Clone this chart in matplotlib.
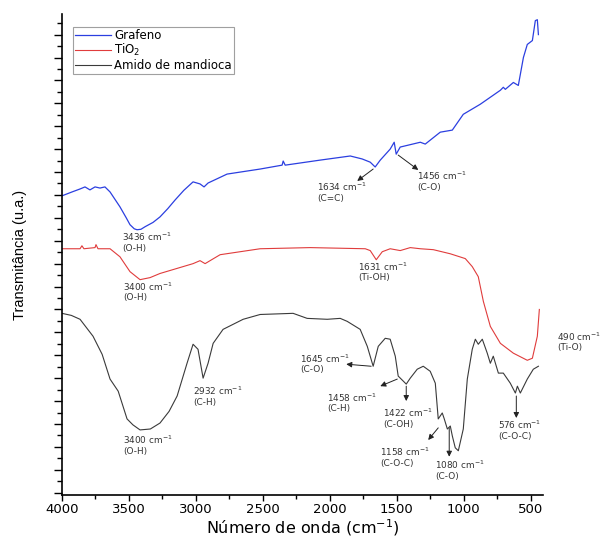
import matplotlib
matplotlib.use('Agg')
import matplotlib.pyplot as plt
from matplotlib.ticker import MultipleLocator

plt.rcParams['font.family'] = 'DejaVu Sans'
plt.rcParams['mathtext.default'] = 'regular'

# FTIR spectra (wavenumber in cm-1, transmittance in arbitrary units, offset)
grafeno_x = [4000, 3925, 3865, 3828, 3791, 3753, 3716, 3679, 3641, 3567, 3520, 3492, 3460,
             3439, 3410, 3380, 3320, 3268, 3210, 3155, 3090, 3021, 2969, 2939, 2909, 2767,
             2520, 2356, 2348, 2333, 2072, 1847, 1758, 1698, 1661, 1623, 1549, 1519, 1504,
             1474, 1324, 1287, 1175, 1085, 1003, 876, 726, 704, 689, 629, 592, 554, 525,
             487, 465, 450, 442]
grafeno_y = [12.96, 13.13, 13.26, 13.35, 13.22, 13.35, 13.30, 13.35, 13.13, 12.48, 12.00, 11.70, 11.52,
             11.48, 11.50, 11.61, 11.80, 12.04, 12.40, 12.78, 13.20, 13.57, 13.48, 13.35, 13.52, 13.91,
             14.13, 14.30, 14.48, 14.30, 14.52, 14.70, 14.57, 14.43, 14.22, 14.52, 15.00, 15.30, 14.78,
             15.09, 15.30, 15.22, 15.74, 15.83, 16.52, 16.96, 17.57, 17.70, 17.61, 17.91, 17.78, 19.00, 19.57,
             19.74, 20.61, 20.65, 20.00]

tio2_x = [4000, 3865, 3851, 3836, 3753, 3746, 3731, 3641, 3567, 3492, 3417, 3342, 3268,
          3021, 2969, 2931, 2894, 2819, 2520, 2146, 1735, 1698, 1653, 1608, 1549, 1474,
          1399, 1324, 1227, 1100, 988, 936, 891, 853, 801, 726, 629, 525, 487, 450, 435]
tio2_y = [10.65, 10.65, 10.78, 10.65, 10.70, 10.83, 10.65, 10.65, 10.30, 9.65, 9.30, 9.39, 9.57,
          10.00, 10.13, 10.00, 10.13, 10.39, 10.65, 10.70, 10.65, 10.57, 10.17, 10.52, 10.65, 10.57,
          10.70, 10.65, 10.61, 10.43, 10.22, 9.87, 9.43, 8.35, 7.26, 6.52, 6.09, 5.78, 5.87, 6.83, 8.00]

amido_x = [4000, 3930, 3865, 3768, 3700, 3641, 3580, 3514, 3470, 3417, 3340, 3268, 3200,
           3140, 3066, 3021, 2984, 2946, 2909, 2871, 2797, 2647, 2520, 2274, 2169, 2019,
           1922, 1870, 1773, 1720, 1676, 1638, 1586, 1549, 1511, 1489, 1451, 1429, 1399,
           1347, 1302, 1250, 1212, 1190, 1160, 1145, 1122, 1100, 1085, 1063, 1040, 1003,
           973, 936, 913, 891, 861, 824, 801, 779, 741, 704, 652, 614, 599, 577, 525, 480, 442]
amido_y = [7.83, 7.74, 7.57, 6.83, 6.04, 4.96, 4.43, 3.22, 2.96, 2.74, 2.78, 3.04, 3.55,
           4.22, 5.65, 6.48, 6.26, 5.00, 5.65, 6.52, 7.13, 7.57, 7.78, 7.83, 7.61, 7.57,
           7.61, 7.48, 7.13, 6.39, 5.52, 6.39, 6.74, 6.70, 5.96, 5.09, 4.87, 4.74, 5.00,
           5.39, 5.52, 5.30, 4.78, 3.22, 3.48, 3.22, 2.78, 2.91, 2.48, 1.96, 1.83, 2.78,
           4.96, 6.26, 6.70, 6.48, 6.70, 6.09, 5.65, 5.96, 5.22, 5.22, 4.78, 4.35, 4.65, 4.35, 4.96, 5.39, 5.52]

# band labels: text, text position (x, y)
band_labels = [
    ('3436 cm$^{-1}$\n(O-H)', 3552, 11.43),
    ('1634 cm$^{-1}$\n(C=C)', 2094, 13.61),
    ('1456 cm$^{-1}$\n(C-O)', 1347, 14.09),
    ('3400 cm$^{-1}$\n(O-H)', 3544, 9.26),
    ('1631 cm$^{-1}$\n(Ti-OH)', 1788, 10.13),
    ('490 cm$^{-1}$\n(Ti-O)', 300, 7.09),
    ('3400 cm$^{-1}$\n(O-H)', 3544, 2.57),
    ('2932 cm$^{-1}$\n(C-H)', 3021, 4.70),
    ('1645 cm$^{-1}$\n(C-O)', 2221, 6.13),
    ('1458 cm$^{-1}$\n(C-H)', 2019, 4.43),
    ('1422 cm$^{-1}$\n(C-OH)', 1601, 3.74),
    ('1158 cm$^{-1}$\n(C-O-C)', 1623, 2.04),
    ('1080 cm$^{-1}$\n(C-O)', 1212, 1.48),
    ('576 cm$^{-1}$\n(C-O-C)', 741, 3.22),
]

# arrows: (tail x, tail y, head x, head y)
arrows = [
    (1676, 14.13, 1795, 13.61),
    (1489, 14.74, 1339, 14.09),
    (510, 5.78, 330, 6.17),
    (1691, 5.52, 1877, 5.61),
    (1496, 4.96, 1623, 4.65),
    (1429, 4.65, 1429, 4.00),
    (1190, 2.83, 1265, 2.30),
    (1108, 2.83, 1108, 1.57),
    (607, 4.22, 607, 3.26),
]

fig = plt.figure(figsize=(6.04, 5.38), dpi=100)
ax = fig.add_axes([0.1026, 0.080, 0.797, 0.894])

ax.plot(grafeno_x, grafeno_y, color='#2b3fe0', lw=0.9, label='Grafeno')
ax.plot(tio2_x, tio2_y, color='#e03c3c', lw=0.8, label='TiO$_2$')
ax.plot(amido_x, amido_y, color='#3a3a3a', lw=0.8, label='Amido de mandioca')

for txt, x, y in band_labels:
    ax.text(x, y, txt, fontsize=6.4, color='#333333', ha='left', va='top',
            linespacing=1.05, clip_on=False)

for x0, y0, x1, y1 in arrows:
    ax.annotate('', xy=(x1, y1), xytext=(x0, y0),
                arrowprops=dict(arrowstyle='-|>', color='#222222', lw=0.7,
                                mutation_scale=8, shrinkA=0, shrinkB=0))

ax.set_xlim(4000, 405)
ax.set_ylim(-0.1, 20.9)
ax.xaxis.set_major_locator(MultipleLocator(500))
ax.xaxis.set_minor_locator(MultipleLocator(250))
ax.yaxis.set_major_locator(MultipleLocator(1))
ax.yaxis.set_minor_locator(MultipleLocator(0.5))
ax.tick_params(axis='x', which='major', length=4, width=1, labelsize=9.5, pad=2)
ax.tick_params(axis='x', which='minor', length=3, width=1)
ax.tick_params(axis='y', which='major', length=6, width=1, labelleft=False)
ax.tick_params(axis='y', which='minor', length=3.5, width=1)

for side in ['top', 'right']:
    ax.spines[side].set_visible(False)
for side in ['left', 'bottom']:
    ax.spines[side].set_linewidth(1.2)

ax.set_xlabel('Número de onda (cm$^{-1}$)', fontsize=11.5, labelpad=1)
ax.set_ylabel('Transmitância (u.a.)', fontsize=10.5, family='Liberation Sans', labelpad=18)

leg = ax.legend(loc='upper left', bbox_to_anchor=(0.023, 0.973), borderaxespad=0,
                fontsize=8.5, frameon=True, fancybox=False, handlelength=3.1,
                handletextpad=0.25, labelspacing=0.05, borderpad=0.15)
leg.get_frame().set_edgecolor('#888888')
leg.get_frame().set_linewidth(0.8)

fig.savefig('out.png', dpi=100)
